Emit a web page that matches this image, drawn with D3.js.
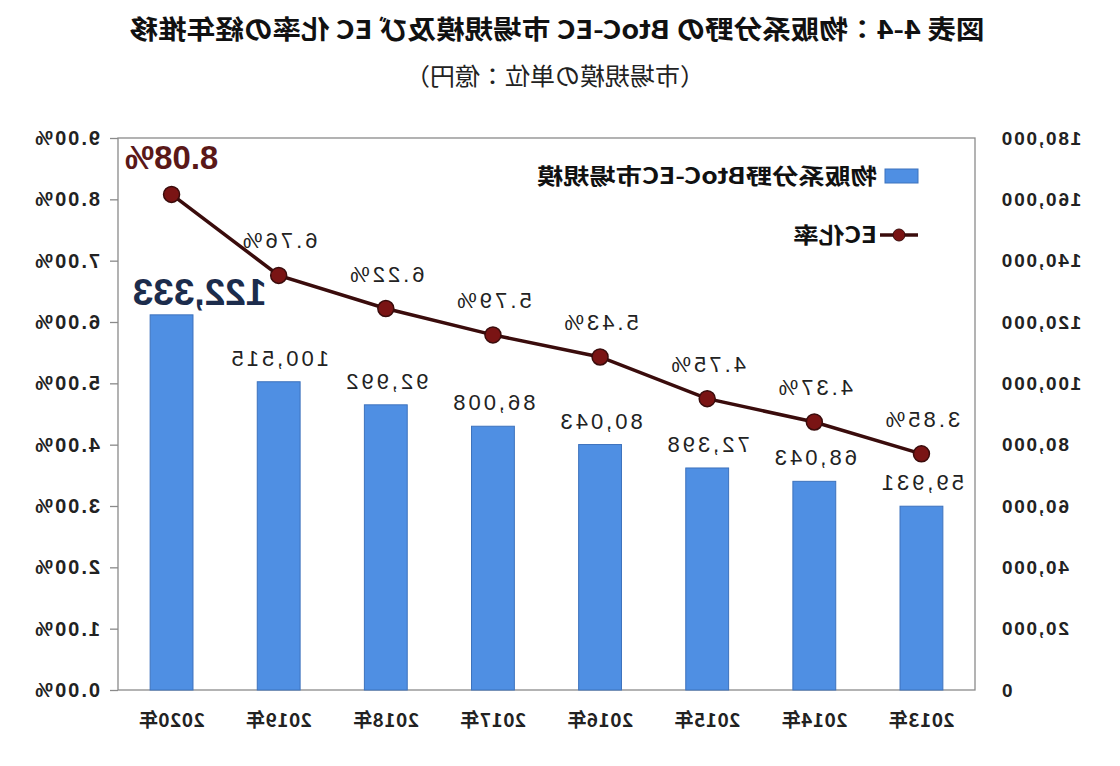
<!DOCTYPE html>
<html>
<head>
<meta charset="utf-8">
<script src="https://cdn.jsdelivr.net/npm/d3@7"></script>
<style>
  body { margin: 0; background: #fff; }
  svg { display: block; }
</style>
</head>
<body>
<div id="chart"></div>
<script>
// data
const years = ["2013年", "2014年", "2015年", "2016年", "2017年", "2018年", "2019年", "2020年"];
const marketSize = [59931, 68043, 72398, 80043, 86008, 92992, 100515, 122333];
const ecRate = [3.85, 4.37, 4.75, 5.43, 5.79, 6.22, 6.76, 8.08];
const titleText = "図表 4-4：物販系分野の BtoC-EC 市場規模及び EC 化率の経年推移";
const subtitleText = "（市場規模の単位：億円）";
const legendBar = "物販系分野BtoC-EC市場規模";
const legendLine = "EC化率";

const width = 1120;
const height = 766;
const margin = {top: 138, right: 118, bottom: 76, left: 145};

const jp = "'Noto Sans CJK JP', 'Noto Sans', sans-serif";
const sans = "'Liberation Sans', Arial, sans-serif";

const svg = d3.select("#chart").append("svg")
  .attr("width", width)
  .attr("height", height);

// the reference picture is mirrored left-right
const g = svg.append("g")
  .attr("transform", `translate(${width},0) scale(-1,1)`);

const xScale = d3.scaleBand()
  .domain(years)
  .range([margin.left, width - margin.right])
  .paddingInner(0.6)
  .paddingOuter(0.3);

const yBar = d3.scaleLinear()
  .domain([0, 180000])
  .range([height - margin.bottom, margin.top]);

const yPct = d3.scaleLinear()
  .domain([0, 9])
  .range([height - margin.bottom, margin.top]);

// titles
g.append("text")
  .attr("x", 563).attr("y", 39)
  .attr("text-anchor", "middle")
  .attr("textLength", 855).attr("lengthAdjust", "spacingAndGlyphs")
  .style("font-family", jp).style("font-size", "26px").style("font-weight", 700)
  .attr("fill", "#111")
  .text(titleText);

g.append("text")
  .attr("x", 565).attr("y", 85)
  .attr("text-anchor", "middle")
  .attr("textLength", 300).attr("lengthAdjust", "spacingAndGlyphs")
  .style("font-family", jp).style("font-size", "24px")
  .attr("fill", "#222")
  .text(subtitleText);

// plot frame
g.append("rect")
  .attr("x", margin.left).attr("y", margin.top)
  .attr("width", width - margin.left - margin.right)
  .attr("height", height - margin.top - margin.bottom)
  .attr("fill", "none")
  .attr("stroke", "#8a8a8a")
  .attr("stroke-width", 1.3);

// axes
const leftAxis = g.append("g")
  .attr("transform", `translate(${margin.left},0)`)
  .call(d3.axisLeft(yBar).ticks(9).tickFormat(d3.format(",")).tickSize(0).tickPadding(25));
leftAxis.select(".domain").remove();
leftAxis.selectAll("text")
  .style("font-family", sans).style("font-size", "19px").style("font-weight", 700)
  .attr("letter-spacing", "1.8px")
  .attr("fill", "#222");

const rightAxis = g.append("g")
  .attr("transform", `translate(${width - margin.right},0)`)
  .call(d3.axisRight(yPct).ticks(9).tickFormat(d => d.toFixed(2) + "%").tickSize(8).tickPadding(10));
rightAxis.select(".domain").remove();
rightAxis.selectAll("line").attr("stroke", "#8a8a8a").attr("stroke-width", 1.3);
rightAxis.selectAll("text")
  .style("font-family", sans).style("font-size", "20px").style("font-weight", 700)
  .attr("letter-spacing", "2px")
  .attr("fill", "#222");

const bottomAxis = g.append("g")
  .attr("transform", `translate(0,${height - margin.bottom})`)
  .call(d3.axisBottom(xScale).tickSize(0).tickPadding(24));
bottomAxis.select(".domain").remove();
bottomAxis.selectAll("text")
  .style("font-family", jp).style("font-size", "19px").style("font-weight", 700)
  .attr("letter-spacing", "0.5px")
  .attr("fill", "#222");

// bars
g.append("g").selectAll("rect")
  .data(years)
  .join("rect")
    .attr("x", d => xScale(d))
    .attr("y", (d, i) => yBar(marketSize[i]))
    .attr("width", xScale.bandwidth())
    .attr("height", (d, i) => yBar(0) - yBar(marketSize[i]))
    .attr("fill", "#4f8fe3")
    .attr("stroke", "#3d72bd")
    .attr("stroke-width", 1);

// line
const cx = d => xScale(d) + xScale.bandwidth() / 2;
const lineFunc = d3.line()
  .x(d => cx(d))
  .y((d, i) => yPct(ecRate[i]));

g.append("path")
  .attr("d", lineFunc(years))
  .attr("fill", "none")
  .attr("stroke", "#3a0c0c")
  .attr("stroke-width", 3.5);

g.append("g").selectAll("circle")
  .data(years)
  .join("circle")
    .attr("cx", d => cx(d))
    .attr("cy", (d, i) => yPct(ecRate[i]))
    .attr("r", 8)
    .attr("fill", "#7a1414")
    .attr("stroke", "#3a0c0c")
    .attr("stroke-width", 1.5);

// labels
const last = years.length - 1;
g.append("g").selectAll("text")
  .data(years)
  .join("text")
    .attr("x", (d, i) => i === last ? cx(d) - 28 : cx(d))
    .attr("y", (d, i) => i === last ? yBar(marketSize[i]) - 10 : yBar(marketSize[i]) - 16)
    .attr("text-anchor", "middle")
    .style("font-family", sans)
    .style("font-size", (d, i) => i === last ? "37px" : "22px")
    .style("font-weight", (d, i) => i === last ? 700 : 400)
    .attr("letter-spacing", (d, i) => i === last ? "0px" : "3px")
    .attr("fill", (d, i) => i === last ? "#1c2c4c" : "#222")
    .text((d, i) => d3.format(",")(marketSize[i]));

g.append("g").selectAll("text")
  .data(years)
  .join("text")
    .attr("x", d => cx(d))
    .attr("y", (d, i) => i === last ? yPct(ecRate[i]) - 25 : yPct(ecRate[i]) - 27)
    .attr("text-anchor", "middle")
    .style("font-family", sans)
    .style("font-size", (d, i) => i === last ? "33px" : "22px")
    .style("font-weight", (d, i) => i === last ? 700 : 400)
    .attr("letter-spacing", (d, i) => i === last ? "0px" : "3px")
    .attr("fill", (d, i) => i === last ? "#5a1818" : "#222")
    .text((d, i) => ecRate[i].toFixed(2) + "%");

// legend
const legend = g.append("g");
legend.append("rect")
  .attr("x", 202).attr("y", 169)
  .attr("width", 33).attr("height", 14)
  .attr("fill", "#4f8fe3")
  .attr("stroke", "#3d72bd");
legend.append("text")
  .attr("x", 243).attr("y", 184)
  .attr("textLength", 340).attr("lengthAdjust", "spacingAndGlyphs")
  .style("font-family", jp).style("font-size", "22px").style("font-weight", 700)
  .attr("fill", "#111")
  .text(legendBar);

legend.append("line")
  .attr("x1", 202).attr("x2", 240)
  .attr("y1", 235).attr("y2", 235)
  .attr("stroke", "#3a0c0c").attr("stroke-width", 3.5);
legend.append("circle")
  .attr("cx", 221).attr("cy", 235).attr("r", 6)
  .attr("fill", "#7a1414").attr("stroke", "#3a0c0c");
legend.append("text")
  .attr("x", 243).attr("y", 243)
  .attr("textLength", 84).attr("lengthAdjust", "spacingAndGlyphs")
  .style("font-family", jp).style("font-size", "22px").style("font-weight", 700)
  .attr("fill", "#111")
  .text(legendLine);
</script>
</body>
</html>
